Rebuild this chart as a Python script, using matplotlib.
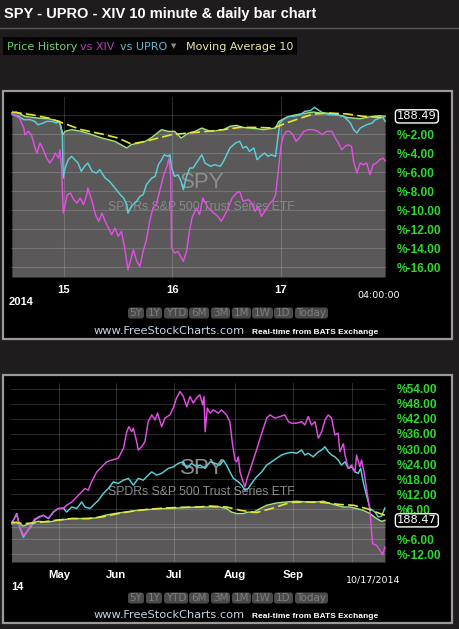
import matplotlib.pyplot as plt
import matplotlib.transforms as mtransforms
from matplotlib.patches import Rectangle, FancyBboxPatch

# ---- top chart: 10 minute bars, x in days (15 -> 1, 16 -> 2, 17 -> 3), values in %
spy10_x = [0.52, 0.56, 0.64, 0.76, 0.86, 0.96, 0.99, 1.01, 1.07, 1.16, 1.26, 1.35, 1.47, 1.58, 1.62,
           1.69, 1.75, 1.81, 1.90, 1.96, 2.02, 2.08, 2.15, 2.21, 2.27, 2.35, 2.41, 2.47, 2.53, 2.59,
           2.65, 2.71, 2.78, 2.84, 2.90, 2.95, 2.98, 3.01, 3.05, 3.11, 3.18, 3.24, 3.30, 3.36, 3.42,
           3.48, 3.54, 3.61, 3.67, 3.73, 3.79, 3.85, 3.91, 3.96]
spy10_y = [0.21, 0.32, -0.14, -0.32, -0.39, -0.67, -2.07, -1.72, -1.54, -1.72, -2.07, -2.42, -2.77, -3.47, -3.12,
           -2.95, -2.77, -2.35, -1.54, -1.72, -1.72, -2.42, -1.89, -1.72, -1.37, -1.72, -1.65, -1.54, -1.19, -1.09,
           -1.30, -1.37, -1.44, -1.54, -1.44, -1.37, -0.67, -0.49, -0.25, -0.04, 0.11, 0.21, 0.32, 0.21, 0.21,
           0.11, -0.04, -0.25, -0.32, -0.39, -0.25, -0.14, -0.07, -0.14]

upro10_x = [0.52, 0.58, 0.63, 0.69, 0.73, 0.76, 0.81, 0.84, 0.89, 0.93, 0.96, 0.985, 0.994, 1.01, 1.04,
            1.07, 1.10, 1.13, 1.16, 1.19, 1.22, 1.26, 1.30, 1.33, 1.38, 1.42, 1.47, 1.52, 1.55, 1.58,
            1.59, 1.62, 1.67, 1.70, 1.73, 1.76, 1.81, 1.84, 1.87, 1.90, 1.925, 1.96, 1.977, 1.992, 2.02,
            2.05, 2.08, 2.10, 2.13, 2.16, 2.19, 2.22, 2.27, 2.30, 2.35, 2.39, 2.44, 2.47, 2.50, 2.53,
            2.58, 2.62, 2.65, 2.68, 2.71, 2.75, 2.78, 2.81, 2.85, 2.88, 2.91, 2.95, 2.975, 2.99, 3.02,
            3.07, 3.11, 3.18, 3.22, 3.27, 3.31, 3.34, 3.39, 3.45, 3.51, 3.58, 3.64, 3.67, 3.70, 3.73,
            3.76, 3.79, 3.84, 3.87, 3.91, 3.94, 3.96]
upro10_y = [0.11, -0.14, -0.49, -0.49, -0.67, -1.02, -0.84, -0.67, -0.67, -0.84, -0.67, -2.07, -6.63, -5.58, -4.70,
            -4.35, -4.70, -5.05, -5.93, -5.40, -5.05, -5.93, -6.11, -5.75, -6.63, -6.98, -7.68, -8.39, -8.74, -9.44,
            -10.32, -9.61, -9.09, -8.56, -8.39, -7.33, -6.63, -6.46, -5.23, -4.70, -4.18, -4.35, -4.18, -5.58, -6.46,
            -6.28, -6.98, -7.86, -6.46, -5.58, -5.58, -5.05, -4.18, -5.05, -5.40, -5.23, -5.40, -4.88, -4.18, -3.47,
            -2.95, -2.77, -3.47, -3.30, -3.82, -3.47, -4.70, -4.35, -4.00, -4.35, -4.18, -4.35, -2.07, -0.84, -0.49,
            -0.14, -0.14, 0.04, 0.39, 0.46, 0.81, 0.56, 0.21, 0.04, 0.04, -0.14, -0.84, -1.54, -1.89, -1.37,
            -1.19, -1.02, -0.84, -0.49, -0.32, -0.25, -0.67]

xiv10_x = [0.52, 0.59, 0.63, 0.64, 0.67, 0.70, 0.73, 0.75, 0.78, 0.81, 0.84, 0.87, 0.90, 0.92, 0.95,
           0.963, 0.978, 0.994, 1.03, 1.06, 1.09, 1.12, 1.15, 1.18, 1.21, 1.22, 1.26, 1.29, 1.32, 1.35,
           1.38, 1.41, 1.44, 1.47, 1.50, 1.53, 1.56, 1.59, 1.62, 1.64, 1.67, 1.70, 1.73, 1.76, 1.79,
           1.82, 1.85, 1.89, 1.92, 1.95, 1.968, 1.983, 1.992, 2.02, 2.05, 2.10, 2.13, 2.16, 2.18, 2.22,
           2.25, 2.28, 2.33, 2.38, 2.42, 2.45, 2.50, 2.55, 2.59, 2.62, 2.65, 2.70, 2.73, 2.76, 2.79,
           2.82, 2.85, 2.90, 2.93, 2.95, 2.975, 3.00, 3.02, 3.05, 3.08, 3.11, 3.14, 3.18, 3.21, 3.25,
           3.30, 3.34, 3.38, 3.42, 3.47, 3.50, 3.53, 3.56, 3.59, 3.62, 3.65, 3.67, 3.70, 3.73, 3.76,
           3.79, 3.82, 3.85, 3.88, 3.91, 3.94, 3.96]
xiv10_y = [0.11, -0.32, -1.37, -2.07, -1.72, -2.07, -3.30, -4.00, -2.95, -3.65, -4.53, -5.05, -4.53, -4.00, -4.53,
           -3.65, -5.58, -10.32, -8.39, -8.21, -8.91, -9.26, -8.74, -9.44, -8.39, -7.68, -9.09, -10.49, -11.19, -10.32,
           -11.19, -11.89, -12.60, -11.89, -12.77, -12.25, -14.00, -16.28, -15.05, -14.18, -15.40, -15.93, -14.35, -13.12, -11.19,
           -9.79, -9.44, -7.68, -6.28, -5.40, -4.53, -6.28, -14.00, -14.53, -14.35, -15.40, -14.35, -12.00, -10.84, -9.79,
           -10.49, -8.74, -9.79, -10.32, -10.67, -11.19, -10.14, -8.74, -8.21, -8.04, -9.09, -8.91, -9.26, -10.14, -9.61,
           -10.67, -10.14, -9.26, -8.91, -8.39, -5.93, -3.30, -2.25, -1.72, -1.72, -2.07, -2.77, -2.25, -1.72, -1.54,
           -1.54, -1.72, -2.07, -1.72, -1.72, -2.42, -2.95, -3.65, -3.30, -3.12, -3.30, -4.88, -6.11, -5.05, -5.23,
           -5.05, -6.28, -5.23, -5.05, -4.70, -4.53, -4.81]

ma10_x = [0.52, 0.70, 0.86, 0.99, 1.16, 1.35, 1.50, 1.62, 1.75, 1.87, 1.99, 2.15, 2.32, 2.47, 2.62,
          2.78, 2.93, 3.05, 3.18, 3.30, 3.45, 3.61, 3.76, 3.94]
ma10_y = [0.32, 0.04, -0.32, -0.84, -1.54, -2.00, -2.42, -3.05, -2.77, -2.42, -2.07, -1.89, -1.72, -1.54, -1.30,
          -1.30, -1.37, -0.84, -0.32, 0.11, 0.21, 0.11, -0.14, -0.25]

day_ticks = [1, 2, 3]
day_labels = ['15', '16', '17']
top_yticks = [0, -2, -4, -6, -8, -10, -12, -14, -16]

# ---- bottom chart: daily bars, x in trading days from the left edge, values in %
spy_d_x = [0.2, 2.1, 4.5, 6.9, 9.9, 13.6, 17.2, 22.1, 26.9, 30.6, 34.2, 37.8, 41.5, 46.3, 51.2,
           56.0, 60.9, 65.7, 68.7, 72.4, 76.0, 78.4, 80.2, 82.1, 84.5, 86.3, 88.1, 90.6, 93.0, 96.6,
           100.2, 103.9, 107.5, 111.2, 113.6, 116.0, 118.4, 120.9, 123.3, 125.7, 128.1, 130.6, 133.0, 134.8, 136.0]
spy_d_y = [0.3, 0.9, -0.7, 0.3, 1.2, 0.9, 1.6, 2.3, 2.3, 2.5, 3.6, 4.3, 4.9, 5.6, 6.0,
           6.3, 6.5, 6.8, 6.9, 6.9, 6.9, 6.3, 4.9, 4.3, 4.3, 4.9, 4.7, 6.3, 7.6, 8.5,
           8.9, 9.2, 8.9, 8.9, 9.2, 8.3, 7.6, 6.9, 6.9, 6.3, 5.6, 4.3, 2.3, 1.2, 1.6]

upro_d_x = [0.2, 2.1, 3.3, 4.5, 5.7, 7.5, 8.7, 9.9, 11.8, 13.6, 15.4, 17.2, 19.0, 20.2, 22.1,
            23.9, 25.7, 26.9, 28.7, 29.9, 31.8, 33.6, 35.4, 37.2, 39.0, 40.9, 42.7, 44.5, 46.3, 48.1,
            49.9, 51.2, 53.0, 54.8, 57.2, 59.0, 60.9, 62.7, 63.9, 65.7, 67.5, 68.7, 70.6, 72.4, 74.2,
            76.0, 77.2, 78.4, 79.6, 80.9, 82.7, 83.9, 85.1, 86.3, 87.5, 89.3, 91.2, 93.0, 94.8, 96.6,
            98.4, 100.2, 102.1, 103.9, 105.7, 106.9, 108.1, 109.9, 111.8, 113.0, 114.2, 115.4, 116.6, 117.8, 119.0,
            120.2, 121.5, 122.7, 123.9, 125.1, 126.3, 127.2, 128.1, 129.3, 130.6, 132.4, 133.6, 134.8, 136.0]
upro_d_y = [0.3, 4.3, -1.7, -5.1, -3.1, -0.4, 1.6, 2.9, 3.6, 2.3, 4.9, 6.3, 6.5, 4.9, 6.9,
            6.3, 8.9, 6.9, 6.3, 7.6, 9.6, 12.3, 14.3, 16.9, 16.3, 17.6, 18.3, 15.6, 18.3, 17.6,
            19.6, 20.9, 19.6, 20.3, 22.3, 22.9, 24.3, 24.9, 22.3, 24.3, 22.9, 23.6, 22.3, 24.9, 24.3,
            23.6, 25.6, 23.6, 20.9, 18.3, 16.9, 15.6, 13.6, 14.3, 16.3, 18.9, 20.9, 23.6, 24.9, 26.3,
            27.6, 28.3, 28.7, 28.3, 29.6, 27.6, 28.3, 26.9, 28.9, 29.6, 30.9, 28.9, 27.6, 26.9, 25.6,
            23.6, 24.9, 22.3, 22.9, 20.9, 20.3, 22.3, 16.9, 11.6, 6.3, 4.9, 2.9, 3.3, 6.5]

xiv_d_x = [0.2, 2.1, 3.3, 4.5, 5.7, 7.5, 8.7, 9.9, 11.8, 13.6, 15.4, 17.2, 19.0, 20.2, 22.1,
           23.9, 25.7, 26.9, 28.1, 29.3, 31.2, 33.0, 34.8, 36.6, 39.0, 40.9, 42.1, 42.9, 43.9, 44.5,
           45.7, 46.3, 47.5, 48.7, 49.9, 51.2, 52.4, 53.3, 54.8, 56.0, 57.8, 59.0, 60.2, 61.5, 62.7,
           63.9, 65.1, 66.3, 67.5, 68.7, 69.7, 70.2, 70.6, 71.4, 72.4, 73.6, 75.4, 76.6, 78.4, 79.6,
           80.6, 81.5, 82.1, 82.7, 83.3, 84.2, 85.1, 85.9, 86.9, 88.1, 89.3, 90.6, 91.8, 93.0, 94.2,
           96.0, 97.8, 99.6, 100.9, 102.1, 103.9, 105.7, 106.9, 108.1, 109.3, 110.6, 111.8, 113.0, 114.2, 115.4,
           116.6, 117.8, 119.0, 119.6, 120.9, 121.5, 122.7, 123.9, 125.1, 125.7, 126.9, 127.5, 128.4, 129.3, 130.6,
           131.5, 133.0, 134.2, 135.2, 136.0]
xiv_d_y = [0.3, 3.9, -1.1, -4.4, -3.1, 0.3, 2.3, 2.5, 3.6, 2.3, 4.9, 6.3, 6.3, 7.6, 8.9,
           10.9, 12.9, 14.3, 13.6, 16.9, 20.9, 22.9, 24.9, 25.6, 26.3, 30.3, 36.9, 38.9, 36.9, 38.3,
           32.9, 29.6, 30.9, 32.9, 40.9, 43.6, 41.6, 44.3, 38.9, 42.3, 43.6, 46.3, 50.3, 52.9, 50.9,
           46.9, 50.9, 48.3, 50.3, 51.6, 47.6, 50.9, 36.9, 46.3, 44.3, 45.6, 44.3, 45.6, 43.6, 40.9,
           31.6, 25.6, 24.9, 26.9, 20.9, 17.6, 14.9, 18.3, 21.6, 25.6, 29.6, 34.3, 38.3, 42.3, 43.6,
           42.3, 42.9, 43.6, 40.9, 40.3, 40.3, 40.9, 39.6, 42.9, 39.6, 40.9, 34.3, 36.9, 41.6, 43.6,
           42.3, 35.6, 36.3, 28.9, 32.1, 27.6, 22.3, 23.6, 20.9, 27.6, 22.9, 25.6, 20.9, 14.3, 4.9,
           -7.7, -8.4, -10.4, -12.1, -9.1]

ma_d_x = [0.2, 4.9, 9.9, 16.0, 22.1, 28.1, 33.0, 39.0, 43.9, 49.9, 56.0, 62.1, 68.1, 72.4, 78.4,
          83.3, 89.3, 95.4, 101.5, 107.5, 113.6, 119.6, 124.5, 129.3, 134.2, 136.0]
ma_d_y = [0.9, 0.3, 0.7, 1.6, 2.3, 2.3, 2.9, 4.3, 5.2, 6.0, 6.5, 6.8, 6.9, 7.3, 6.9,
          5.6, 4.7, 6.5, 8.7, 8.9, 8.7, 7.9, 7.6, 6.3, 4.3, 3.6]

month_ticks = [17.45, 38.2, 59.3, 81.5, 102.7, 124.0]
month_labels = ['May', 'Jun', 'Jul', 'Aug', 'Sep', '']
bot_yticks = [54, 48, 42, 36, 30, 24, 18, 12, 6, 0, -6, -12]

buttons = ['5Y', '1Y', 'YTD', '6M', '3M', '1M', '1W', '1D', 'Today']
button_x = [128, 146, 164, 189, 211, 232, 252, 274, 295]
button_w = [16, 16, 24, 20, 19, 19, 21, 19, 33]

BG = '#1e1c1c'
C_SPY = '#9fe27c'
C_UPRO = '#58d2da'
C_XIV = '#e24fe2'
C_MA = '#e4e43a'
C_FILL = '#5a5858'
C_LAB = '#2fd82f'
SANS = 'Liberation Sans'

fig = plt.figure(figsize=(4.6, 6.29), dpi=100, facecolor=BG)

# background layer in pixel coordinates
bg = fig.add_axes([0, 0, 1, 1])
bg.set_xlim(0, 460)
bg.set_ylim(629, 0)
bg.axis('off')
bg.set_facecolor(BG)

bg.text(4, 14, 'SPY - UPRO - XIV 10 minute & daily bar chart', fontsize=10.5,
        fontweight='bold', color='white', va='center', family=SANS)
bg.plot([0, 460], [27.5, 27.5], color='#5a5858', lw=1)
bg.add_patch(Rectangle((3, 37), 294, 18, fc='#050505', ec='none'))
for txt, x, col in [('Price History', 7, '#6fd06f'), ('vs XIV', 80, '#b83cb8'),
                    ('vs UPRO', 120, '#6ab4cc'), ('\u25BC', 171, '#8a8a8a'),
                    ('Moving Average 10', 186, '#ece6a2')]:
    bg.text(x, 46.5, txt, fontsize=8 if txt != '\u25BC' else 5, color=col, va='center',
            family='DejaVu Sans')

for top, bottom in [(91, 339), (375, 623)]:
    bg.add_patch(Rectangle((3, top), 449, bottom - top, fc='black', ec='#9a9a9a', lw=1.6))


def footer(y_btn, y_www):
    for lab, x, w in zip(buttons, button_x, button_w):
        bg.add_patch(FancyBboxPatch((x, y_btn - 5.5), w, 11,
                                    boxstyle='round,pad=0,rounding_size=2.5',
                                    fc='#4a4a4a', ec='none'))
        bg.text(x + w / 2, y_btn, lab, fontsize=7.5, color='#7e7e7e',
                ha='center', va='center', family='DejaVu Sans')
    bg.text(94, y_www, 'www.FreeStockCharts.com', fontsize=8.2, color='#c4d4e4',
            va='center', family='DejaVu Sans')
    bg.text(252, y_www + 1, 'Real-time from BATS Exchange', fontsize=6, color='white',
            fontweight='bold', va='center', family=SANS)


footer(313, 331)
footer(598, 615)
bg.text(9, 302, '2014', fontsize=8, color='white', fontweight='bold', va='center', family=SANS)
bg.text(379, 295, '04:00:00', fontsize=6.8, color='white', ha='center', va='center', family='DejaVu Sans')
bg.text(11, 587, '14', fontsize=8, color='white', fontweight='bold', va='center', family=SANS)
bg.text(373, 580, '10/17/2014', fontsize=6.8, color='white', ha='center', va='center', family='DejaVu Sans')


def panel(rect, lines, ma, xlim, ylim, xticks, xlabels, yticks, last_label, base=None):
    ax = fig.add_axes(rect)
    ax.set_facecolor('black')
    sx, sy = lines[0][0], lines[0][1]
    ax.fill_between(sx, sy, ylim[0], color=C_FILL, lw=0, zorder=1)
    if base is not None:
        ax.axhline(base, color='white', alpha=0.2, lw=1.0, zorder=2.5)
    for x, y, c in lines:
        ax.plot(x, y, color=c, lw=1.05, zorder=3)
    ax.plot(ma[0], ma[1], color=C_MA, lw=1.2, ls=(0, (6, 2.5)), zorder=3.5)
    ax.set_xlim(*xlim)
    ax.set_ylim(*ylim)
    ax.set_xticks(xticks)
    ax.set_xticklabels(xlabels)
    ax.set_yticks(yticks)
    ax.set_yticklabels(['' if v == 0 else '%{:.2f}'.format(v) for v in yticks])
    ax.yaxis.tick_right()
    ax.tick_params(axis='y', length=0, pad=8, labelcolor=C_LAB, labelsize=8.6)
    ax.tick_params(axis='x', length=0, pad=6, labelcolor='white', labelsize=8.2)
    for t in ax.get_yticklabels() + ax.get_xticklabels():
        t.set_fontweight('bold')
        t.set_family(SANS)
    ax.grid(True, color='white', alpha=0.17, lw=0.8)
    ax.set_axisbelow(False)
    for s in ax.spines.values():
        s.set_visible(False)
    ax.text(0.509, 0.525, 'SPY', transform=ax.transAxes, fontsize=16, color='#8e8e8e',
            ha='center', va='center', family=SANS, zorder=2)
    ax.text(0.509, 0.39, 'SPDRs S&P 500 Trust Series ETF', transform=ax.transAxes,
            fontsize=8.8, color='#8a8a8a', ha='center', va='center', family=SANS, zorder=2)
    trans = mtransforms.blended_transform_factory(ax.transAxes, ax.transData)
    ax.text(1.0293, sy[-1], last_label, transform=trans, fontsize=8.2, color='white',
            ha='left', va='center', family='DejaVu Sans', clip_on=False,
            bbox=dict(boxstyle='round,pad=0.14,rounding_size=0.3', fc='black', ec='white', lw=1))
    return ax


panel([11 / 460, 1 - 277 / 629, 375 / 460, 180 / 629],
      [(spy10_x, spy10_y, C_SPY), (upro10_x, upro10_y, C_UPRO), (xiv10_x, xiv10_y, C_XIV)],
      (ma10_x, ma10_y), (0.512, 3.968), (-17.05, 1.9), day_ticks, day_labels, top_yticks, '188.49')

panel([11 / 460, 1 - 562 / 629, 375 / 460, 179 / 629],
      [(spy_d_x, spy_d_y, C_SPY), (upro_d_x, upro_d_y, C_UPRO), (xiv_d_x, xiv_d_y, C_XIV)],
      (ma_d_x, ma_d_y), (0, 136.4), (-15.0, 56.3), month_ticks, month_labels, bot_yticks, '188.47',
      base=-1.0)

fig.savefig('out.png', dpi=100, facecolor=BG)
